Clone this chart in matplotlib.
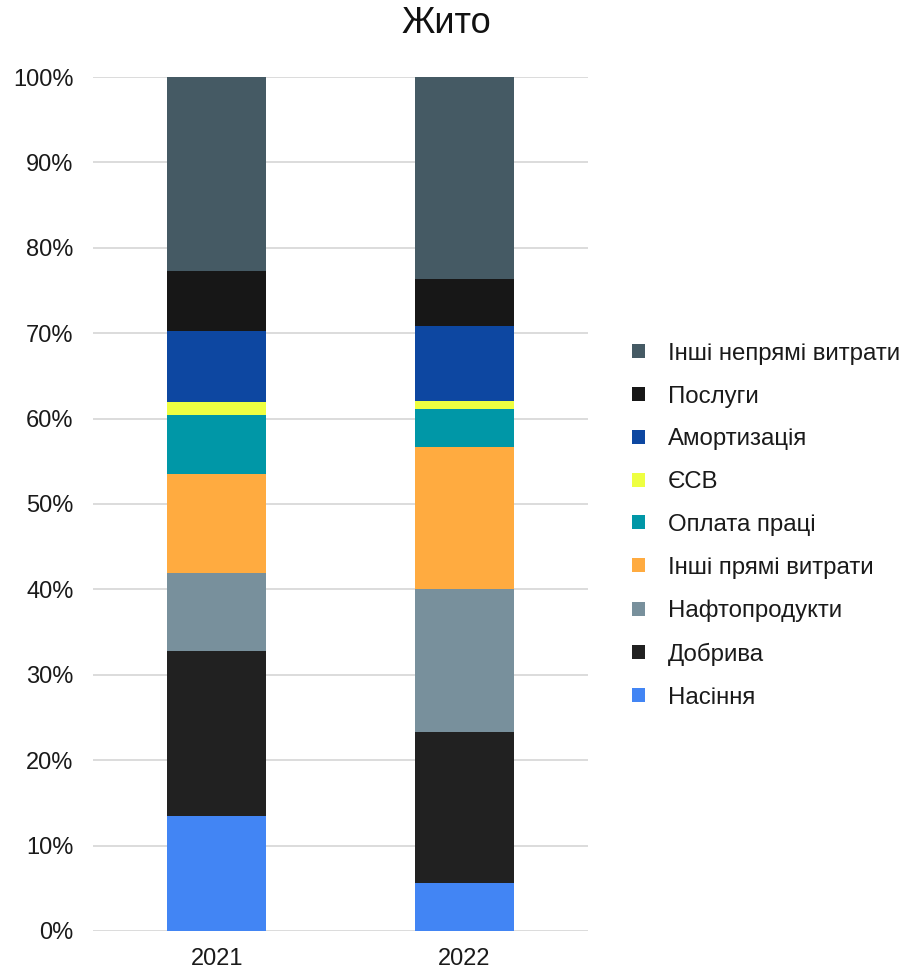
import matplotlib
matplotlib.use("Agg")
import matplotlib.pyplot as plt
from matplotlib.patches import Patch
from matplotlib.ticker import FuncFormatter

plt.rcParams['font.family'] = ['Liberation Sans', 'DejaVu Sans']

years = ["2021", "2022"]
categories = ["Насіння", "Добрива", "Нафтопродукти", "Інші прямі витрати",
              "Оплата праці", "ЄСВ", "Амортизація", "Послуги", "Інші непрямі витрати"]
seeds = [13.5, 5.6]
fertilizers = [19.3, 17.7]
fuel = [9.1, 16.7]
other_direct = [11.6, 16.7]
wages = [6.9, 4.4]
social_tax = [1.5, 1.0]
depreciation = [8.3, 8.7]
services = [7.1, 5.5]
other_indirect = [22.7, 23.7]
colors = ["#4285F4", "#212121", "#78909C", "#FFAB40", "#0097A7",
          "#EEFF41", "#0D47A1", "#171717", "#455A64"]

series = [seeds, fertilizers, fuel, other_direct, wages, social_tax,
          depreciation, services, other_indirect]

fig = plt.figure(figsize=(9.07, 9.71), dpi=100)
ax = fig.add_axes([0.1025, 0.0412, 0.5458, 0.8795])

x = list(range(len(years)))
bottom = [0.0] * len(years)
for vals, col in zip(series, colors):
    ax.bar(x, vals, width=0.4, bottom=bottom, color=col, zorder=3)
    bottom = [b + v for b, v in zip(bottom, vals)]

ax.set_xlim(-0.5, 1.5)
ax.set_ylim(0, 100)
ax.set_yticks(range(0, 101, 10))
ax.yaxis.set_major_formatter(FuncFormatter(lambda v, p: f"{int(v)}%"))
ax.set_xticks(x)
ax.set_xticklabels(years)
ax.grid(axis='y', color='#d9d9d9', linewidth=1.3, zorder=0)
for s in ax.spines.values():
    s.set_visible(False)
ax.tick_params(axis='both', length=0, labelsize=17, colors='#1a1a1a')
ax.tick_params(axis='y', pad=14)
ax.tick_params(axis='x', pad=12)

fig.text(0.4917, 0.976, "Жито", ha='center', va='center', fontsize=26, color='#111111')

handles = [Patch(facecolor=c, edgecolor='none') for c in colors]
leg = fig.legend(handles[::-1], categories[::-1], loc='center left',
                 bbox_to_anchor=(0.697, 0.4585), frameon=False, fontsize=17.3,
                 handlelength=0.52, handleheight=0.52, handletextpad=0.97,
                 labelspacing=0.865, borderpad=0, borderaxespad=0)
for t in leg.get_texts():
    t.set_color('#1a1a1a')

fig.savefig("out.png", dpi=100)
